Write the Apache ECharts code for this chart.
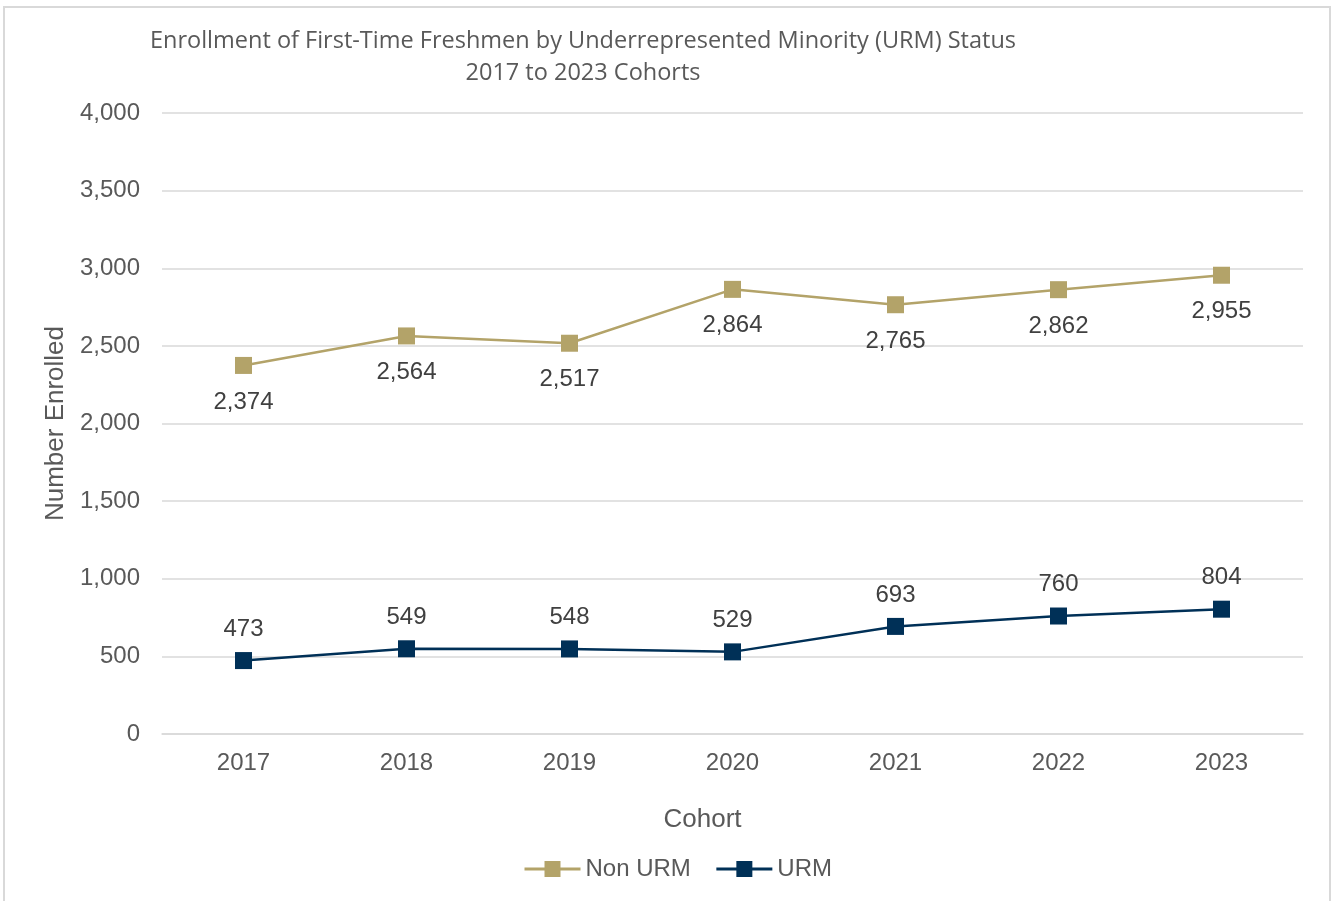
<!DOCTYPE html>
<html><head><meta charset="utf-8">
<script src="https://cdn.jsdelivr.net/npm/echarts@6/dist/echarts.min.js"></script>
<style>html,body{margin:0;padding:0;background:#fff}#c{width:1335px;height:901px}
#frame{position:absolute;left:3px;top:6px;width:1328px;height:900px;border:2px solid #d9d9d9;box-sizing:border-box;pointer-events:none}</style>
</head><body><div id="c"></div><div id="frame"></div>
<script>
const categories = ['2017','2018','2019','2020','2021','2022','2023'];
const nonUrm = [2374, 2564, 2517, 2864, 2765, 2862, 2955];
const urm = [473, 549, 548, 529, 693, 760, 804];
const yTicks = {min: 0, max: 4000, interval: 500};

const chart = echarts.init(document.getElementById('c'));
const FF = 'Liberation Sans, Arial, sans-serif';
const lblFont = {fontFamily: FF, fontSize: 24, color: '#404040'};
chart.setOption({
  animation: false,
  title: {
    text: 'Enrollment of First-Time Freshmen by Underrepresented Minority (URM) Status\n2017 to 2023 Cohorts',
    left: 578, top: 20, textAlign: 'center',
    textStyle: {fontFamily: 'Open Sans, sans-serif', fontWeight: 'normal', fontSize: 23.5, color: '#595959', lineHeight: 32, align: 'center'}
  },
  legend: {
    bottom: 15, left: 518, itemWidth: 56, itemHeight: 20, itemGap: 24,
    textStyle: {fontFamily: FF, fontSize: 24, color: '#595959'},
    lineStyle: {width: 3},
    data: ['Non URM', 'URM']
  },
  grid: {left: 162, right: 32, top: 113, bottom: 167},
  xAxis: {
    type: 'category', data: categories, boundaryGap: true,
    name: 'Cohort', nameLocation: 'middle', nameGap: 73,
    nameTextStyle: {fontFamily: FF, fontSize: 26, color: '#595959', padding: [0, 60, 0, 0]},
    axisLine: {lineStyle: {color: '#d9d9d9', width: 1.5}},
    axisTick: {show: false},
    axisLabel: {margin: 17, fontFamily: FF, fontSize: 24, color: '#595959'}
  },
  yAxis: {
    type: 'value', min: yTicks.min, max: yTicks.max, interval: yTicks.interval,
    name: 'Number Enrolled', nameLocation: 'middle', nameGap: 88, nameRotate: 90,
    nameTextStyle: {fontFamily: FF, fontSize: 26, color: '#595959'},
    axisLine: {show: false}, axisTick: {show: false},
    splitLine: {lineStyle: {color: '#d9d9d9', width: 1.5}},
    axisLabel: {margin: 22, fontFamily: FF, fontSize: 24, color: '#595959',
      formatter: v => v.toLocaleString('en-US')}
  },
  series: [
    {
      name: 'Non URM', type: 'line', data: nonUrm,
      symbol: 'rect', symbolSize: 17,
      lineStyle: {color: '#B3A369', width: 2.5},
      itemStyle: {color: '#B3A369'},
      label: {show: true, position: 'bottom', distance: 16, ...lblFont, formatter: p => p.value.toLocaleString('en-US')}
    },
    {
      name: 'URM', type: 'line', data: urm,
      symbol: 'rect', symbolSize: 17,
      lineStyle: {color: '#003057', width: 2.5},
      itemStyle: {color: '#003057'},
      label: {show: true, position: 'top', distance: 11, ...lblFont, formatter: p => p.value.toLocaleString('en-US')}
    }
  ]
});
</script></body></html>
